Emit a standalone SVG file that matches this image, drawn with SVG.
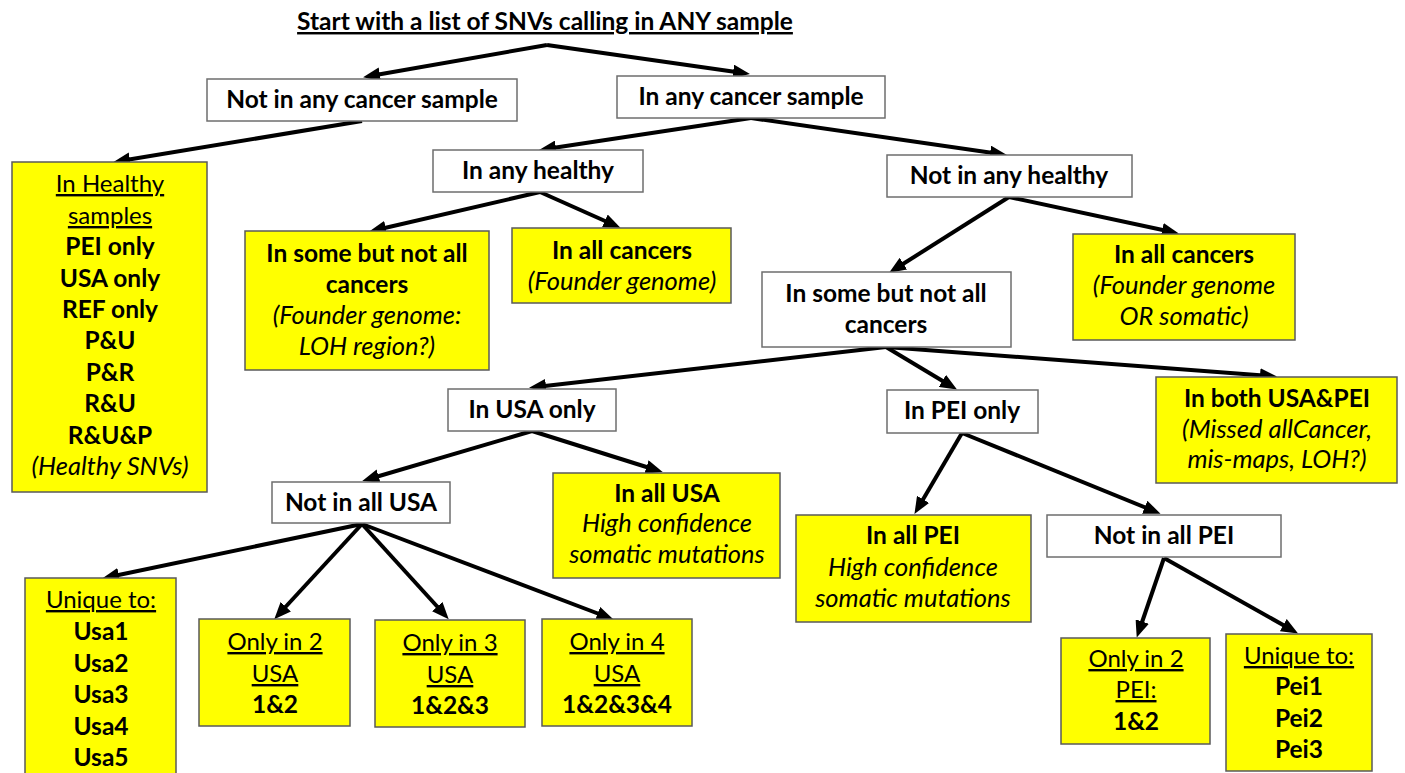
<svg xmlns="http://www.w3.org/2000/svg" width="1405" height="773" viewBox="0 0 1405 773">
<style>
text{font-family:Lato,"Liberation Sans",sans-serif;font-size:24px;fill:#000;text-anchor:middle}
.b{font-weight:bold;font-size:24.5px}
.i{font-style:italic;font-size:25.5px}
.u{text-decoration:underline}
.t{font-weight:bold;font-size:24.5px;text-decoration:underline}
.w{fill:#fff;stroke:#6e6e6e;stroke-width:1.5}
.y{fill:#ffff00;stroke:#5a5a5a;stroke-width:1.5}
.c line{stroke:#000;stroke-width:4;marker-end:url(#ah)}
</style>
<defs>
<marker id="ah" markerUnits="userSpaceOnUse" markerWidth="18" markerHeight="14" refX="10" refY="7" orient="auto">
<path d="M0,0 L17,7 L0,14 z" fill="#000"/>
</marker>
</defs>
<rect width="1405" height="773" fill="#fff"/>
<g id="title"><text class="t" x="545" y="30">Start with a list of SNVs calling in ANY sample</text></g>
<g class="c" id="connectors">
<line x1="547" y1="45" x2="370" y2="76"/>
<line x1="547" y1="45" x2="743" y2="73"/>
<line x1="362" y1="121" x2="120" y2="161"/>
<line x1="751" y1="118" x2="546" y2="149"/>
<line x1="751" y1="118" x2="1000" y2="154"/>
<line x1="540" y1="192" x2="376" y2="230"/>
<line x1="540" y1="192" x2="614" y2="225"/>
<line x1="1009" y1="197" x2="895" y2="269"/>
<line x1="1009" y1="197" x2="1172" y2="232"/>
<line x1="886" y1="347" x2="536" y2="387"/>
<line x1="886" y1="347" x2="951" y2="386"/>
<line x1="886" y1="347" x2="1270" y2="376"/>
<line x1="532" y1="431" x2="369" y2="479"/>
<line x1="532" y1="431" x2="656" y2="470"/>
<line x1="362" y1="524" x2="109" y2="577"/>
<line x1="362" y1="524" x2="279" y2="614"/>
<line x1="362" y1="524" x2="444" y2="614"/>
<line x1="362" y1="524" x2="607" y2="617"/>
<line x1="962" y1="433" x2="918" y2="508"/>
<line x1="962" y1="433" x2="1154" y2="511"/>
<line x1="1164" y1="558" x2="1139" y2="631"/>
<line x1="1164" y1="558" x2="1292" y2="630"/>
</g>
<g id="notCancer"><rect class="w" x="207" y="79" width="310" height="42"/><text class="b" x="362" y="108">Not in any cancer sample</text></g>
<g id="inCancer"><rect class="w" x="617" y="76" width="268" height="42"/><text class="b" x="751" y="105">In any cancer sample</text></g>
<g id="inHealthy"><rect class="w" x="433" y="150" width="210" height="42"/><text class="b" x="538" y="179">In any healthy</text></g>
<g id="notHealthy"><rect class="w" x="887" y="155" width="245" height="42"/><text class="b" x="1009" y="184">Not in any healthy</text></g>
<g id="someCancersW"><rect class="w" x="762" y="272" width="249" height="75"/><text class="b" x="886" y="302">In some but not all</text><text class="b" x="886" y="333">cancers</text></g>
<g id="usaOnly"><rect class="w" x="448" y="389" width="168" height="42"/><text class="b" x="532" y="418">In USA only</text></g>
<g id="peiOnly"><rect class="w" x="887" y="390" width="151" height="43"/><text class="b" x="962" y="419">In PEI only</text></g>
<g id="notAllUsa"><rect class="w" x="272" y="482" width="178" height="41"/><text class="b" x="361" y="511">Not in all USA</text></g>
<g id="notAllPei"><rect class="w" x="1047" y="515" width="234" height="42"/><text class="b" x="1164" y="544">Not in all PEI</text></g>

<g id="healthySamples"><rect class="y" x="12" y="162" width="195" height="330"/>
<text class="u" x="110" y="192">In Healthy</text><text class="u" x="110" y="224">samples</text>
<text class="b" x="110" y="255">PEI only</text><text class="b" x="110" y="287">USA only</text><text class="b" x="110" y="318">REF only</text>
<text class="b" x="110" y="349">P&amp;U</text><text class="b" x="110" y="381">P&amp;R</text><text class="b" x="110" y="412">R&amp;U</text><text class="b" x="110" y="444">R&amp;U&amp;P</text>
<text class="i" x="110" y="475">(Healthy SNVs)</text></g>
<g id="someCancersY"><rect class="y" x="245" y="231" width="244" height="139"/>
<text class="b" x="367" y="262">In some but not all</text><text class="b" x="367" y="293">cancers</text>
<text class="i" x="367" y="324">(Founder genome:</text><text class="i" x="367" y="355">LOH region?)</text></g>
<g id="allCancersFounder"><rect class="y" x="512" y="228" width="219" height="75"/>
<text class="b" x="622" y="259">In all cancers</text><text class="i" x="622" y="290">(Founder genome)</text></g>
<g id="allCancersSomatic"><rect class="y" x="1073" y="234" width="222" height="106"/>
<text class="b" x="1184" y="263">In all cancers</text><text class="i" x="1184" y="294">(Founder genome</text><text class="i" x="1184" y="325">OR somatic)</text></g>
<g id="bothUsaPei"><rect class="y" x="1156" y="377" width="241" height="106"/>
<text class="b" x="1277" y="407">In both USA&amp;PEI</text><text class="i" x="1277" y="438">(Missed allCancer,</text><text class="i" x="1277" y="468">mis-maps, LOH?)</text></g>
<g id="allUsa"><rect class="y" x="553" y="473" width="227" height="105"/>
<text class="b" x="667" y="502">In all USA</text><text class="i" x="667" y="532">High confidence</text><text class="i" x="667" y="563">somatic mutations</text></g>
<g id="allPei"><rect class="y" x="796" y="515" width="235" height="107"/>
<text class="b" x="913" y="544">In all PEI</text><text class="i" x="913" y="576">High confidence</text><text class="i" x="913" y="607">somatic mutations</text></g>
<g id="uniqueUsa"><rect class="y" x="25" y="578" width="151" height="210"/>
<text class="u" x="101" y="608">Unique to:</text><text class="b" x="101" y="640">Usa1</text><text class="b" x="101" y="672">Usa2</text><text class="b" x="101" y="703">Usa3</text><text class="b" x="101" y="735">Usa4</text><text class="b" x="101" y="766">Usa5</text></g>
<g id="only2Usa"><rect class="y" x="199" y="619" width="151" height="107"/>
<text class="u" x="275" y="650">Only in 2</text><text class="u" x="275" y="682">USA</text><text class="b" x="275" y="713">1&amp;2</text></g>
<g id="only3Usa"><rect class="y" x="375" y="620" width="150" height="107"/>
<text class="u" x="450" y="651">Only in 3</text><text class="u" x="450" y="683">USA</text><text class="b" x="450" y="714">1&amp;2&amp;3</text></g>
<g id="only4Usa"><rect class="y" x="542" y="619" width="150" height="107"/>
<text class="u" x="617" y="650">Only in 4</text><text class="u" x="617" y="682">USA</text><text class="b" x="617" y="713">1&amp;2&amp;3&amp;4</text></g>
<g id="only2Pei"><rect class="y" x="1061" y="638" width="149" height="106"/>
<text class="u" x="1136" y="667">Only in 2</text><text class="u" x="1136" y="698">PEI:</text><text class="b" x="1136" y="730">1&amp;2</text></g>
<g id="uniquePei"><rect class="y" x="1226" y="634" width="146" height="137"/>
<text class="u" x="1299" y="664">Unique to:</text><text class="b" x="1299" y="695">Pei1</text><text class="b" x="1299" y="727">Pei2</text><text class="b" x="1299" y="758">Pei3</text></g>
</svg>
